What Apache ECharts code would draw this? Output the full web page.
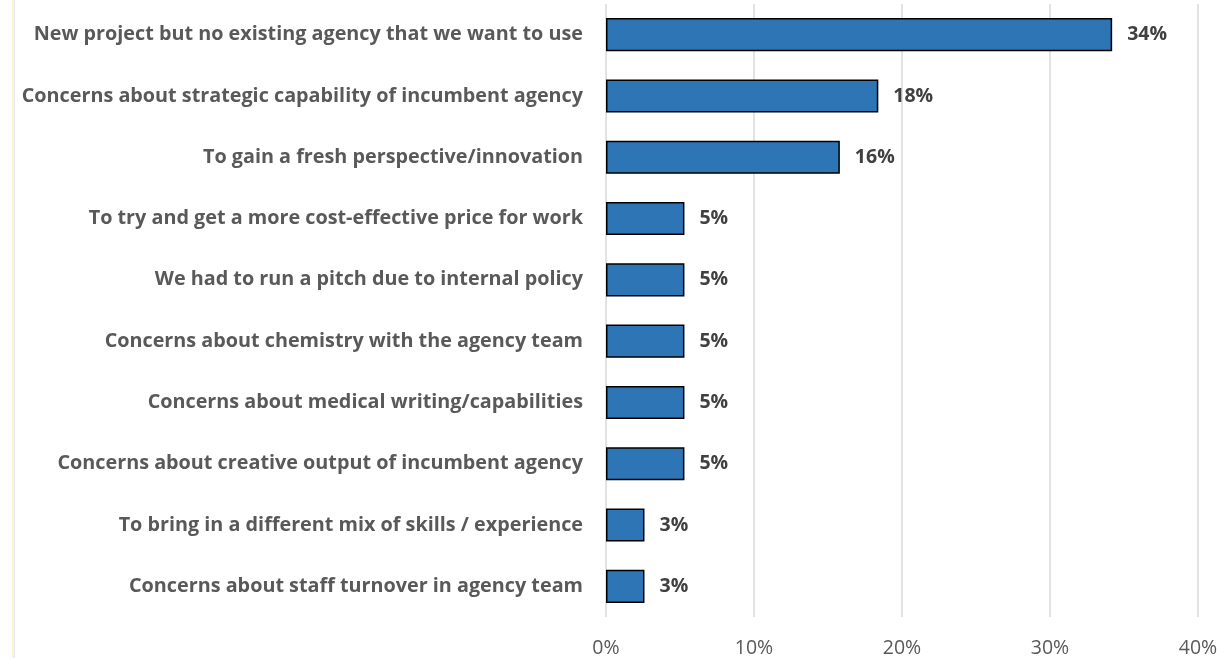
<!DOCTYPE html>
<html>
<head>
<meta charset="utf-8">
<script src="https://cdn.jsdelivr.net/npm/echarts@6/dist/echarts.min.js"></script>
<style>
  html, body { margin: 0; padding: 0; background: #fff; }
  #chart { width: 1224px; height: 658px; }
</style>
</head>
<body>
<div id="chart"></div>
<script>
// Reasons for running a pitch (share of respondents, %)
const categories = [
  'New project but no existing agency that we want to use',
  'Concerns about strategic capability of incumbent agency',
  'To gain a fresh perspective/innovation',
  'To try and get a more cost-effective price for work',
  'We had to run a pitch due to internal policy',
  'Concerns about chemistry with the agency team',
  'Concerns about medical writing/capabilities',
  'Concerns about creative output of incumbent agency',
  'To bring in a different mix of skills / experience',
  'Concerns about staff turnover in agency team'
];
const values = [34.2, 18.4, 15.8, 5.3, 5.3, 5.3, 5.3, 5.3, 2.6, 2.6];
const tickLabels = ['0%', '10%', '20%', '30%', '40%'];

const chart = echarts.init(document.getElementById('chart'), null, { renderer: 'canvas' });
const font = '"Open Sans", sans-serif';

chart.setOption({
  animation: false,
  backgroundColor: '#ffffff',
  graphic: [
    { type: 'rect', shape: { x: 12, y: 0, width: 2, height: 658 }, style: { fill: '#FFF2CC' } },
    { type: 'rect', shape: { x: 14, y: 0, width: 1, height: 658 }, style: { fill: '#E2ECF7' } }
  ],
  grid: { left: 606, right: 26, top: 4, bottom: 41, containLabel: false },
  xAxis: {
    type: 'value',
    min: 0,
    max: 40,
    interval: 10,
    axisLine: { show: false },
    axisTick: { show: false },
    splitLine: { show: true, lineStyle: { color: '#D9D9D9', width: 1.5 } },
    axisLabel: {
      margin: 21,
      color: '#595959',
      fontFamily: font,
      fontSize: 19.5,
      formatter: (v) => tickLabels[Math.round(v / 10)]
    }
  },
  yAxis: {
    type: 'category',
    inverse: true,
    data: categories,
    axisLine: { show: false },
    axisTick: { show: false },
    axisLabel: {
      margin: 23,
      color: '#595959',
      fontFamily: font,
      fontWeight: 'bold',
      fontSize: 19.8
    }
  },
  series: [{
    type: 'bar',
    data: values,
    barWidth: '54%',
    itemStyle: { color: '#2E75B6', borderColor: '#000000', borderWidth: 1.5 },
    label: {
      show: true,
      position: 'right',
      distance: 15,
      color: '#404040',
      fontFamily: font,
      fontWeight: 'bold',
      fontSize: 19.5,
      formatter: (p) => Math.round(p.value) + '%'
    }
  }]
});
</script>
</body>
</html>
